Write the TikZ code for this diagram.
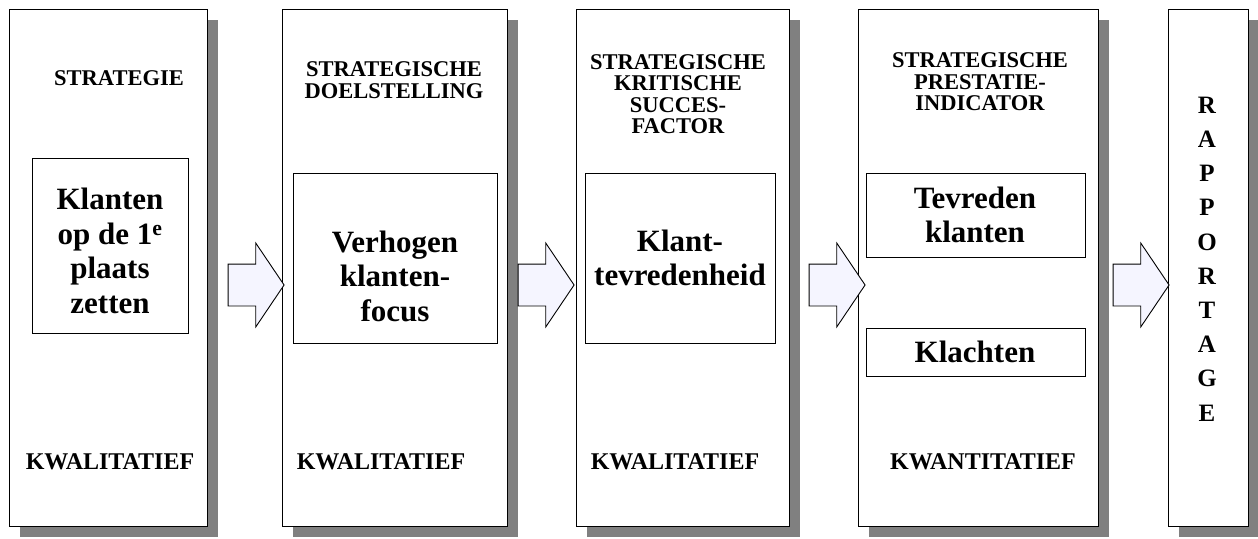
\documentclass[tikz,border=0pt]{standalone}
\usepackage{fontspec}
\setmainfont{Liberation Serif}
\usetikzlibrary{shadows,shapes.arrows}

\tikzset{
  x=1pt, y=-1pt,
  column/.style={draw=black, line width=1.3pt, fill=white, anchor=north west,
    minimum height=517pt, inner sep=0pt,
    drop shadow={shadow xshift=10pt, shadow yshift=-10pt, fill=black!50, opacity=1}},
  innerbox/.style={draw=black, line width=1.1pt, fill=white, anchor=north west, inner sep=0pt},
  title/.style={font=\fontsize{22.5}{21.5}\selectfont\bfseries, align=center},
  bigtext/.style={font=\fontsize{31}{34.5}\selectfont\bfseries, align=center},
  kind/.style={font=\fontsize{24}{26}\selectfont\bfseries},
  flow/.style={single arrow, draw=black, line width=0.9pt, fill=blue!4,
    minimum height=56pt, inner sep=0pt, inner ysep=20.5pt,
    single arrow head extend=21pt, single arrow tip angle=112,
    single arrow head indent=0pt},
}

\begin{document}
\begin{tikzpicture}
\useasboundingbox (0,0) rectangle (1258,538);

% five columns
\node[column, minimum width=198pt] (c1) at (9,9) {};
\node[column, minimum width=225pt] (c2) at (282,9) {};
\node[column, minimum width=213pt] (c3) at (576,9) {};
\node[column, minimum width=240pt] (c4) at (858,9) {};
\node[column, minimum width=80pt]  (c5) at (1168,9) {};

% block arrows between the columns
\node[flow] (a1) at (249,285) {};
\node[flow] (a2) at (539,285) {};
\node[flow] (a3) at (830,285) {};
\node[flow] (a4) at (1134,285) {};

% headings
\node[title] (t1) at (119,78) {STRATEGIE};
\node[title] (t2) at (394,80) {STRATEGISCHE\\DOELSTELLING};
\node[title] (t3) at (678,94) {STRATEGISCHE\\KRITISCHE\\SUCCES-\\FACTOR};
\node[title] (t4) at (980,82) {STRATEGISCHE\\PRESTATIE-\\INDICATOR};

% inner boxes
\node[innerbox, minimum width=156pt, minimum height=175pt] (b1) at (32,158) {};
\node[innerbox, minimum width=204pt, minimum height=170pt] (b2) at (293,173) {};
\node[innerbox, minimum width=190pt, minimum height=170pt] (b3) at (585,173) {};
\node[innerbox, minimum width=219pt, minimum height=84pt]  (b4) at (866,173) {};
\node[innerbox, minimum width=219pt, minimum height=48pt]  (b5) at (866,328) {};

\node[bigtext] (k1) at (110,251) {Klanten\\op de 1\textsuperscript{e}\\plaats\\zetten};
\node[bigtext] (k2) at (395,276) {Verhogen\\klanten-\\focus};
\node[bigtext] (k3) at (680,258) {Klant-\\tevredenheid};
\node[bigtext] (k4) at (975,215) {Tevreden\\klanten};
\node[bigtext] (k5) at (975,352) {Klachten};

% bottom labels
\node[kind] (q1) at (110,462) {KWALITATIEF};
\node[kind] (q2) at (381,462) {KWALITATIEF};
\node[kind] (q3) at (675,462) {KWALITATIEF};
\node[kind] (q4) at (983,462) {KWANTITATIEF};

% vertical label of the last column
\node[font=\fontsize{25}{34.2}\selectfont\bfseries, align=center] (r) at (1207,259)
  {R\\A\\P\\P\\O\\R\\T\\A\\G\\E};
\end{tikzpicture}
\end{document}
